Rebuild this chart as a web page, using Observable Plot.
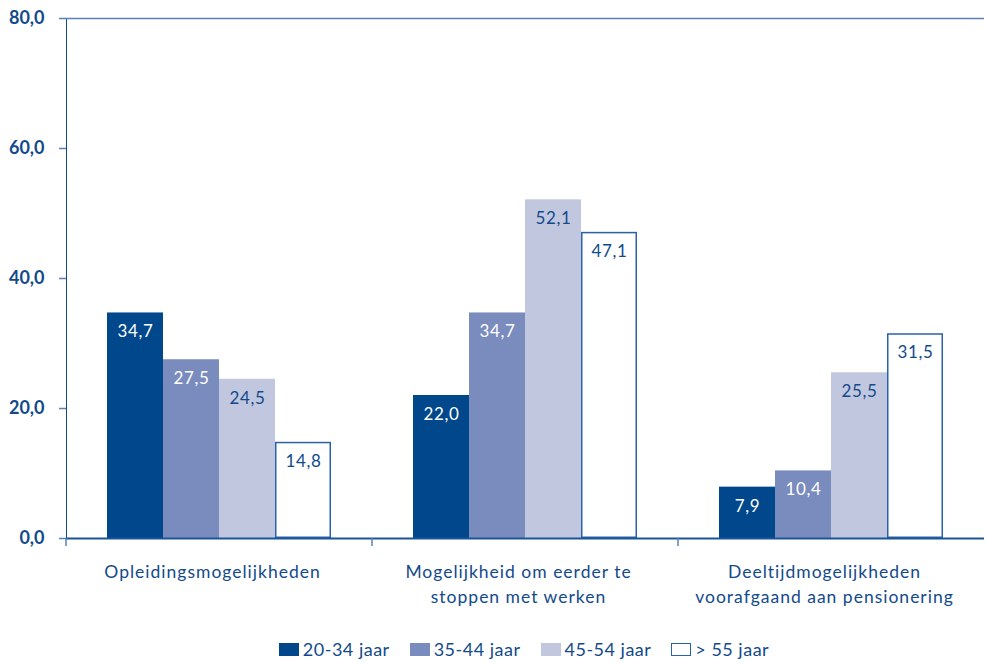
<!DOCTYPE html>
<html>
<head>
<meta charset="utf-8">
<script src="https://cdn.jsdelivr.net/npm/d3@7"></script>
<script src="https://cdn.jsdelivr.net/npm/@observablehq/plot@0.6"></script>
<style>
  body { margin: 0; background: #fff; font-family: Lato, "Open Sans", sans-serif; }
  #chart svg { display: block; }
  #legend { display: flex; justify-content: center; gap: 20px; padding-left: 62px; margin-top: 18px;
            font-size: 18px; letter-spacing: 0.5px; color: #124a8b; font-family: Lato, sans-serif; }
  #legend .item { display: flex; align-items: center; gap: 4px; }
  #legend .sw { width: 20px; height: 13px; box-sizing: border-box; }
</style>
</head>
<body>
<div id="chart"></div>
<div id="legend"></div>
<script>
const categories = ["Opleidingsmogelijkheden", "Mogelijkheid om eerder te\nstoppen met werken", "Deeltijdmogelijkheden\nvoorafgaand aan pensionering"];
const series = ["20-34 jaar", "35-44 jaar", "45-54 jaar", "> 55 jaar"];
const values2034 = [34.7, 22.0, 7.9];
const values3544 = [27.5, 34.7, 10.4];
const values4554 = [24.5, 52.1, 25.5];
const values55 = [14.8, 47.1, 31.5];
const yTicks = [0, 20, 40, 60, 80];

const colors = ["#00478c", "#7a8bbd", "#c2c7e0", "#ffffff"];
const labelColors = ["#ffffff", "#ffffff", "#124a8b", "#124a8b"];
const textColor = "#124a8b";
const axisColor = "#5a80b6";

const seriesValues = [values2034, values3544, values4554, values55];
const data = [];
categories.forEach((c, ci) => series.forEach((s, si) => data.push({cat: c, series: s, si, value: seriesValues[si][ci]})));
const fmt = v => v.toFixed(1).replace(".", ",");

const plot = Plot.plot({
  width: 986,
  height: 620,
  marginTop: 18,
  marginLeft: 65,
  marginRight: 1,
  marginBottom: 82,
  style: {fontFamily: "Lato, sans-serif", color: textColor, background: "white", overflow: "visible"},
  fx: {domain: categories, padding: 0, axis: null},
  x: {domain: series, paddingInner: 0, paddingOuter: 0.73, axis: null},
  y: {domain: [0, 80], ticks: yTicks, tickFormat: fmt, tickSize: 7, tickPadding: 15, label: null, line: true},
  color: {domain: series, range: colors},
  marks: [
    Plot.barY(data, {fx: "cat", x: "series", y: "value", fill: "series", inset: 0}),
    Plot.barY(data.filter(d => d.si === 3), {fx: "cat", x: "series", y: "value", fill: "white", stroke: "#2a62a6", strokeWidth: 1.5, inset: 0.75}),
    Plot.text(data, {fx: "cat", x: "series", y: "value", text: d => fmt(d.value), dy: 19, fill: d => labelColors[d.si], fontSize: 17, className: "barlabel"}),
    Plot.ruleY([0], {stroke: "#1a5599", strokeWidth: 2}),
    Plot.ruleY([80], {stroke: axisColor, strokeWidth: 1.5}),
    Plot.text(categories, {fx: d => d, frameAnchor: "bottom", dy: 21, dx: -7, lineAnchor: "top", text: d => d, fill: textColor, fontSize: 17.5, lineHeight: 1.45, className: "catlabel"})
  ]
});

// style y axis
d3.select(plot).selectAll("g[aria-label='y-axis'] line, g[aria-label='y-axis'] path, g[aria-label='y-axis tick'] path, g[aria-label='y-axis'] .domain")
  .attr("stroke", axisColor).attr("stroke-width", 1.5);
d3.select(plot).selectAll("g[aria-label='y-axis'] text, g[aria-label='y-axis tick label'] text")
  .attr("fill", textColor).style("font-size", "18px").style("font-weight", "700");

// letter spacing for text marks (bar labels first, category labels second)
const textGroups = d3.select(plot).selectAll("g[aria-label='text']").nodes();
if (textGroups.length >= 2) {
  d3.select(textGroups[0]).selectAll("text").style("letter-spacing", "0.6px");
  d3.select(textGroups[textGroups.length - 1]).selectAll("text").style("letter-spacing", "1px");
}

// category boundary ticks from the fx scale
const fx = plot.scale("fx");
const ys = plot.scale("y");
const y0 = ys.apply(0);
const g = d3.select(plot).append("g").attr("stroke", axisColor).attr("stroke-width", 1.5);
categories.forEach((c, i) => {
  const x0 = fx.apply(c);
  g.append("line").attr("x1", x0).attr("x2", x0).attr("y1", y0).attr("y2", y0 + 8);
});

document.getElementById("chart").appendChild(plot);

const legend = document.getElementById("legend");
series.forEach((s, i) => {
  const item = document.createElement("div");
  item.className = "item";
  const sw = document.createElement("div");
  sw.className = "sw";
  sw.style.background = colors[i];
  if (i === 3) sw.style.border = "1.5px solid #2a62a6";
  const t = document.createElement("span");
  t.textContent = s;
  item.appendChild(sw); item.appendChild(t);
  legend.appendChild(item);
});
</script>
</body>
</html>
